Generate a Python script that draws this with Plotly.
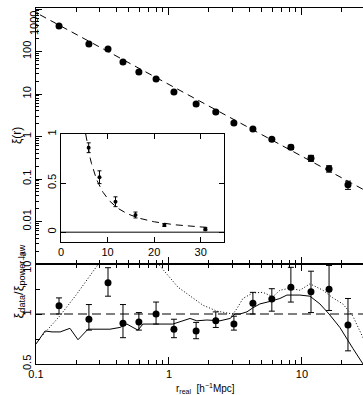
import plotly.graph_objects as go
import math

# ---------------- data ----------------
r_bins = [0.149, 0.25, 0.348, 0.451, 0.594, 0.80, 1.09, 1.60, 2.25, 3.08,
          4.28, 5.94, 8.26, 11.7, 16.0, 22.2, 31.0]
xi_vals = [398, 150, 115, 57, 33, 22.5, 11.1, 5.8, 3.77, 2.08,
           1.5, 0.86, 0.56, 0.31, 0.175, 0.073, 0.03]
xi_errs = [12, 5, 4, 2, 1.2, 0.8, 0.5, 0.3, 0.2, 0.12,
           0.09, 0.05, 0.065, 0.05, 0.03, 0.016, 0.015]

inset_first = 11  # inset shows bins from r ~ 6 onwards
inset_errs = [0.05, 0.065, 0.05, 0.03, 0.015, 0.015]

ratio_vals = [1.12, 0.93, 1.54, 0.88, 0.895, 1.0, 0.81, 0.79, 0.91, 0.87,
              1.16, 1.23, 1.45, 1.36, 1.41, 0.86]
ratio_hi = [1.25, 1.14, 1.90, 1.14, 1.02, 1.18, 0.93, 0.89, 1.03, 0.97,
            1.35, 1.42, 1.91, 1.81, 1.96, 1.24]
ratio_lo = [1.00, 0.80, 1.28, 0.72, 0.80, 0.87, 0.72, 0.71, 0.83, 0.80,
            1.00, 1.04, 1.18, 1.02, 1.05, 0.60]

solid_r = [0.100, 0.117, 0.132, 0.152, 0.180, 0.207, 0.246, 0.360, 0.428, 0.483,
           0.536, 0.585, 0.637, 0.758, 1.07, 1.44, 1.62, 1.93, 2.42, 2.88,
           3.14, 3.42, 3.86, 4.28, 4.83, 5.75, 6.83, 7.71, 9.66, 11.5,
           13.65, 16.0, 19.3, 24.2, 28.8]
solid_ratio = [0.66, 0.79, 0.78, 0.78, 0.82, 0.70, 0.81, 0.81, 0.83, 0.87,
               0.83, 0.80, 0.87, 0.87, 0.87, 0.94, 0.91, 0.92, 0.91, 0.94,
               1.00, 1.00, 1.03, 1.09, 1.15, 1.19, 1.24, 1.30, 1.30, 1.28,
               1.15, 1.00, 0.83, 0.62, 0.50]

dotted_r = [0.113, 0.152, 0.20, 0.292, 0.40, 0.55, 0.70, 0.84, 1.17, 1.80,
            2.30, 3.03, 3.25, 3.60, 4.28, 5.09, 6.05, 6.83, 8.13, 9.66,
            11.5, 14.4, 17.1, 20.3, 24.2, 28.8]
dotted_ratio = [0.75, 0.98, 1.30, 1.98, 2.6, 2.8, 2.4, 1.98, 1.45, 1.13,
                1.04, 1.00, 1.08, 1.24, 1.34, 1.35, 1.27, 1.39, 1.43, 1.39,
                1.52, 1.39, 1.25, 1.15, 0.97, 0.72]

r0 = 5.3      # power-law correlation length
gamma = 1.69  # power-law slope

x_ticks = [0.1, 1, 10]
x_ticktext = ["0.1", "1", "10"]
xi_ticks = [1e-3, 1e-2, 0.1, 1, 10, 100, 1000]
xi_ticktext = ["10<sup>\u22123</sup>", "0.01", "0.1", "1", "10", "100", ""]
ratio_ticks = [0.5, 1, 2]
ratio_ticktext = ["0.5", "1", ""]
inset_xticks = [0, 10, 20, 30]
inset_yticks = [0, 0.5, 1]

# ---------------- figure ----------------
FONT = "Liberation Sans"
FS = 11
W, H = 363, 395
ml, mr, mt, mb = 36, 0, 8, 31
pw, ph = W - ml - mr, H - mt - mb
split = 100 / ph

def px_x(p):
    return (p - ml) / pw

def px_y(p):
    return (H - mb - p) / ph

fig = go.Figure()

# power law curve (main panel)
n = 60
pl_r = [0.107 * (30 / 0.107) ** (i / n) for i in range(n + 1)]
pl_xi = [(r / r0) ** (-gamma) for r in pl_r]
fig.add_trace(go.Scatter(x=pl_r, y=pl_xi, mode="lines", xaxis="x2", yaxis="y2",
                         line=dict(color="black", width=1, dash="7px,5px")))
fig.add_trace(go.Scatter(x=r_bins, y=xi_vals, mode="markers", xaxis="x2", yaxis="y2",
                         marker=dict(color="black", size=7),
                         error_y=dict(type="data", array=xi_errs, color="black",
                                      thickness=1, width=3)))

# inset
in_r = [r0 + 0.25 * i for i in range(int((32 - r0) / 0.25) + 1)]
in_xi = [(r / r0) ** (-gamma) for r in in_r]
fig.add_trace(go.Scatter(x=[0, 35], y=[0, 0], mode="lines", xaxis="x3", yaxis="y3",
                         line=dict(color="black", width=1)))
fig.add_trace(go.Scatter(x=in_r, y=in_xi, mode="lines", xaxis="x3", yaxis="y3",
                         line=dict(color="black", width=1, dash="7px,5px")))
fig.add_trace(go.Scatter(x=r_bins[inset_first:], y=xi_vals[inset_first:], mode="markers",
                         xaxis="x3", yaxis="y3",
                         marker=dict(color="black", size=4),
                         error_y=dict(type="data", array=inset_errs,
                                      color="black", thickness=1, width=2)))

# ratio panel
fig.add_trace(go.Scatter(x=[0.1, 30], y=[1, 1], mode="lines", xaxis="x", yaxis="y",
                         line=dict(color="black", width=1, dash="9px,5px")))
fig.add_trace(go.Scatter(x=dotted_r, y=dotted_ratio, mode="lines", xaxis="x", yaxis="y",
                         line=dict(color="black", width=1, dash="1px,2px")))
fig.add_trace(go.Scatter(x=solid_r, y=solid_ratio, mode="lines", xaxis="x", yaxis="y",
                         line=dict(color="black", width=1)))
fig.add_trace(go.Scatter(x=r_bins[:len(ratio_vals)], y=ratio_vals, mode="markers",
                         xaxis="x", yaxis="y",
                         marker=dict(color="black", size=7),
                         error_y=dict(type="data", symmetric=False,
                                      array=[h - v for h, v in zip(ratio_hi, ratio_vals)],
                                      arrayminus=[v - l for v, l in zip(ratio_vals, ratio_lo)],
                                      color="black", thickness=1, width=3)))

minor_x = [k * 10 ** e for e in (-1, 0, 1) for k in range(2, 10)]
minor_xi = [k * 10 ** e for e in range(-3, 3) for k in range(2, 10)]

axis_common = dict(showline=True, linecolor="black", linewidth=1, ticks="inside",
                   tickcolor="black", tickwidth=1, showgrid=False, zeroline=False,
                   tickfont=dict(family=FONT, size=FS, color="black"))

xr = [-1, math.log10(28.8)]

fig.update_layout(
    width=W, height=H, margin=dict(l=ml, r=mr, t=mt, b=mb),
    paper_bgcolor="white", plot_bgcolor="white", showlegend=False,
    xaxis=dict(axis_common, type="log", range=xr, domain=[0, 1], anchor="y",
               tickmode="array", tickvals=x_ticks, ticktext=x_ticktext, ticklen=7,
               mirror="ticks",
               minor=dict(tickmode="array", tickvals=minor_x, ticks="inside",
                          ticklen=4, tickcolor="black", showgrid=False)),
    yaxis=dict(axis_common, type="log", range=[math.log10(0.5), math.log10(2)],
               domain=[0, split], anchor="x", tickmode="array", tickvals=ratio_ticks,
               ticktext=ratio_ticktext, ticklen=6, tickangle=-90,
               minor=dict(tickmode="array", tickvals=[0.7071, 1.4142], ticks="inside",
                          ticklen=4, tickcolor="black", showgrid=False)),
    xaxis2=dict(axis_common, type="log", range=xr, domain=[0, 1], anchor="y2",
                tickmode="array", tickvals=x_ticks, showticklabels=False, ticklen=7,
                mirror="ticks",
                minor=dict(tickmode="array", tickvals=minor_x, ticks="inside",
                           ticklen=4, tickcolor="black", showgrid=False)),
    yaxis2=dict(axis_common, type="log", range=[-3, 3.024], domain=[split, 1],
                anchor="x2", tickmode="array", tickvals=xi_ticks, ticktext=xi_ticktext,
                ticklen=6, tickangle=-90,
                minor=dict(tickmode="array", tickvals=minor_xi, ticks="inside",
                           ticklen=3, tickcolor="black", showgrid=False)),
    xaxis3=dict(axis_common, range=[0, 35], domain=[px_x(61), px_x(224)], anchor="y3",
                tickmode="array", tickvals=inset_xticks, ticklen=5, mirror="ticks"),
    yaxis3=dict(axis_common, range=[-0.1, 1], domain=[px_y(242), px_y(134)], anchor="x3",
                tickmode="array", tickvals=inset_yticks, ticklen=5, mirror="ticks",
                tickangle=-90),
    annotations=[
        dict(text="1000", xref="paper", yref="paper", x=px_x(26), y=px_y(9),
             showarrow=False, textangle=-90,
             font=dict(family=FONT, size=FS, color="black")),
        dict(text="\u03be(r)", xref="paper", yref="paper", x=px_x(8), y=px_y(136),
             showarrow=False, textangle=-90,
             font=dict(family=FONT, size=12, color="black")),
        dict(text="\u03be<sub>data</sub>/\u03be<sub>power law</sub>", xref="paper",
             yref="paper", x=px_x(8), y=px_y(321), showarrow=False, textangle=-90,
             font=dict(family=FONT, size=13, color="black")),
        dict(text="r<sub>real</sub>  [h<sup>\u22121</sup>Mpc]", xref="paper", yref="paper",
             x=px_x(205), y=px_y(380), yanchor="top", xanchor="center", showarrow=False,
             font=dict(family=FONT, size=10, color="black")),
    ],
)

fig.write_html("out.html")
